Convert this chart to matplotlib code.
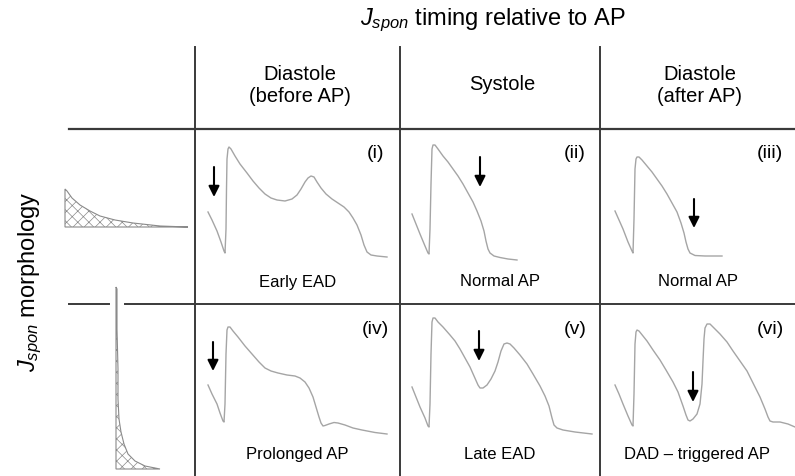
import matplotlib.pyplot as plt

plt.rcParams['font.family'] = 'Liberation Sans'
plt.rcParams['mathtext.fontset'] = 'custom'
plt.rcParams['mathtext.it'] = 'Liberation Sans:italic'
plt.rcParams['mathtext.rm'] = 'Liberation Sans'

W, H = 795, 477

# column / row headers
title = r'$J_{spon}$ timing relative to AP'
row_title = r'$J_{spon}$ morphology'
col_names = ['Diastole\n(before AP)', 'Systole', 'Diastole\n(after AP)']
panel_tags = ['(i)', '(ii)', '(iii)', '(iv)', '(v)', '(vi)']
panel_names = ['Early EAD', 'Normal AP', 'Normal AP',
               'Prolonged AP', 'Late EAD', 'DAD \u2013 triggered AP']

# AP traces (time -> right, voltage -> up, cell units)
ap_i_t = [13, 17, 22, 26, 29, 30, 31, 31.5, 32, 33, 34, 36, 40, 45, 52, 58, 64, 70, 76, 82, 90, 97,
          102, 106, 110, 113, 116, 119, 122, 126, 131, 137, 143, 149, 154, 158, 162, 166, 169, 172,
          176, 182, 192]
ap_i_v = [83, 91, 102, 113, 122, 124, 100, 60, 30, 20, 18, 20, 27, 35, 44, 52, 59, 65, 69, 71, 72, 70,
          66, 60, 53, 49, 47, 48, 53, 59, 65, 70, 74, 78, 83, 89, 96, 106, 116, 123,
          126, 127, 128]
ap_ii_t = [12, 16, 20, 25, 28, 29, 30, 31, 32, 33, 35, 38, 43, 48, 53, 58, 63, 68, 73, 77, 81, 84,
           86, 88, 90, 94, 100, 108, 117]
ap_ii_v = [85, 95, 105, 117, 124, 125, 100, 55, 20, 16, 16, 20, 27, 33, 40, 47, 55, 64, 73, 82, 92, 102,
           112, 120, 124, 127, 128.5, 130, 131]
ap_iii_t = [15, 19, 23, 28, 32, 33, 34, 35, 36, 37, 39, 42, 47, 52, 57, 62, 67, 72, 77, 81, 84, 86,
            88, 90, 95, 105, 122]
ap_iii_v = [82, 91, 100, 113, 122, 124, 90, 40, 30, 28, 28, 31, 37, 43, 50, 57, 65, 74, 83, 94, 104, 113,
            120, 124, 126.5, 127, 127]
ap_iv_t = [13, 17, 22, 25, 28, 29, 30, 31, 32, 33, 35, 38, 43, 50, 57, 64, 70, 76, 83, 92, 100, 105,
           110, 114, 118, 121, 124, 126, 128, 130, 134, 139, 143, 150, 158, 167, 180, 192]
ap_iv_v = [81, 90, 100, 109, 117, 118, 100, 50, 26, 23, 23, 27, 33, 42, 50, 58, 64, 67, 69, 71, 72, 74,
           78, 84, 93, 103, 113, 119, 122, 121.5, 120, 118.5, 119, 121, 124, 126, 128.5, 130]
ap_v_t = [12, 16, 20, 25, 28, 29, 30, 31, 32, 33, 35, 38, 43, 50, 55, 60, 65, 70, 74, 78, 80, 83,
          87, 91, 95, 98, 101, 104, 107, 110, 114, 120, 127, 133, 140, 145, 149, 152, 154, 157,
          163, 175, 192]
ap_v_v = [83, 93, 103, 114, 122, 123, 100, 50, 18, 14, 14, 18, 23, 31, 37, 45, 54, 63, 72, 81, 84, 84,
          81, 75, 67, 58, 47, 40, 39, 40, 44, 51, 60, 70, 82, 92, 102, 114, 121, 124,
          126, 128, 130]
ap_vi_t = [15, 19, 23, 28, 32, 33, 34, 35, 36, 37, 39, 43, 47, 53, 60, 66, 73, 78, 83, 86, 88, 90,
           93, 97, 100, 102, 103, 104, 105, 107, 110, 114, 120, 127, 133, 140, 147, 153, 160, 165,
           168, 170, 173, 180, 188, 195]
ap_vi_v = [81, 90, 100, 112, 121, 122, 90, 40, 28, 26, 27, 32, 37, 46, 56, 66, 78, 88, 102, 111, 116, 117,
           115, 110, 100, 80, 57, 35, 24, 20, 20, 24, 30, 38, 47, 57, 67, 79, 93, 105,
           113, 117, 118, 118, 120, 123]

# stimulus arrows: x, start, tip
arrow_x = [19, 80, 94, 18, 79, 93]
arrow_top = [38, 28, 70, 38, 27, 68]
arrow_tip = [68, 58, 99, 67, 57, 98]

# J_spon shapes (left column)
slow_t = [65, 65, 67, 72, 80, 90, 100, 115, 133, 160, 188]
slow_i = [228, 190, 192, 199, 206, 212, 217, 221, 224, 227, 228]
fast_t = [116, 116, 117, 117, 118, 118, 119, 121, 124, 128, 135, 145, 160]
fast_i = [470, 288, 290, 330, 370, 400, 420, 433, 445, 455, 462, 467, 470]

col_left = [195, 400, 600]
col_w = [205, 200, 195]
row_top = [130, 305]
row_h = [175, 172]
line_col = '#3a3a3a'

fig = plt.figure(figsize=(W / 100, H / 100), dpi=100)
ax = fig.add_axes([0, 0, 1, 1])
ax.set_xlim(0, W)
ax.set_ylim(H, 0)
ax.axis('off')

# table lines
for x in col_left:
    ax.plot([x, x], [48, H], color=line_col, lw=1.4)
ax.plot([69, W], [130, 130], color=line_col, lw=1.6)
ax.plot([69, 109], [305, 305], color=line_col, lw=1.4)
ax.plot([125, W], [305, 305], color=line_col, lw=1.4)

# headers
ax.text(493, 20, title, fontsize=17, ha='center', va='center')
ax.text(30, 282, row_title, fontsize=17, ha='center', va='center', rotation=90)
for i, name in enumerate(col_names):
    ax.text(col_left[i] + col_w[i] / 2 + 2, 85, name, fontsize=14.5,
            ha='center', va='center', linespacing=1.2)

# J_spon shapes
plt.rcParams['hatch.color'] = '#8a8a8a'
plt.rcParams['hatch.linewidth'] = 0.5
ax.fill(slow_t, slow_i, facecolor='white', edgecolor='#8a8a8a', hatch='xxx', lw=0.8)
ax.fill(fast_t, fast_i, facecolor='white', edgecolor='#8a8a8a', hatch='xxx', lw=0.8)

traces = [(ap_i_t, ap_i_v), (ap_ii_t, ap_ii_v), (ap_iii_t, ap_iii_v),
          (ap_iv_t, ap_iv_v), (ap_v_t, ap_v_v), (ap_vi_t, ap_vi_v)]

for k, (t, v) in enumerate(traces):
    r, c = divmod(k, 3)
    cax = fig.add_axes([col_left[c] / W, 1 - (row_top[r] + row_h[r]) / H,
                        col_w[c] / W, row_h[r] / H])
    cax.set_xlim(0, col_w[c])
    cax.set_ylim(row_h[r], 0)
    cax.axis('off')
    cax.plot(t, v, color='#a5a5a5', lw=1.0, solid_joinstyle='round')
    cax.annotate('', xy=(arrow_x[k], arrow_tip[k]), xytext=(arrow_x[k], arrow_top[k]),
                 arrowprops=dict(arrowstyle='-|>', color='black', lw=1.5,
                                 mutation_scale=16, shrinkA=0, shrinkB=0))
    cax.text(col_w[c] - 25, 24, panel_tags[k], fontsize=14, ha='center', va='center')
    cax.text(col_w[c] / 2, 152 - 2 * r, panel_names[k], fontsize=12,
             ha='center', va='center')

plt.savefig('out.png', dpi=100)
